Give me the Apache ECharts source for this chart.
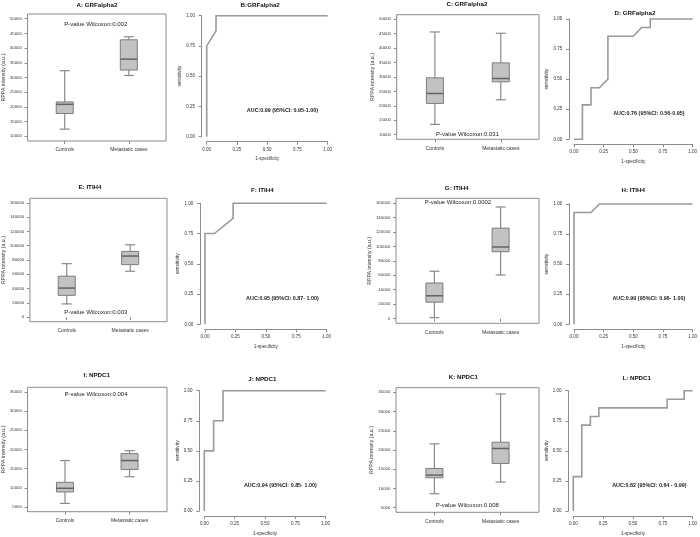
<!DOCTYPE html>
<html><head><meta charset="utf-8">
<script src="https://cdn.jsdelivr.net/npm/echarts@6/dist/echarts.min.js"></script>
<style>html,body{margin:0;padding:0;background:#fff}#c{width:700px;height:537px}</style>
</head><body><div id="c"></div>
<script>
// ---------- DATA ----------
const boxCategories = ['Controls', 'Metastatic cases'];
// box stats: [lower whisker, Q1, median, Q3, upper whisker]
const boxA_controls   = [12430, 17750, 20870, 21680, 32310];
const boxA_metastatic = [30690, 32540, 36240, 42830, 43870];
const boxC_controls   = [13570, 20840, 24290, 29710, 45620];
const boxC_metastatic = [22100, 28330, 29480, 34900, 45160];
const boxE_controls   = [18500, 30520, 40690, 57340, 74910];
const boxE_metastatic = [64280, 73530, 85550, 92020, 101270];
const boxG_controls   = [1400, 22790, 31630, 49300, 65580];
const boxG_metastatic = [60470, 92560, 99070, 125120, 154420];
const boxI_controls   = [5950, 8950, 9900, 11450, 17120];
const boxI_metastatic = [12910, 14800, 17120, 18930, 19700];
const boxK_controls   = [8630, 12780, 13470, 15200, 21600];
const boxK_metastatic = [11660, 16500, 20390, 22030, 34570];

const ticksGRF   = [10000, 15000, 20000, 25000, 30000, 35000, 40000, 45000, 50000];
const ticksITIH4 = [0, 20000, 40000, 60000, 80000, 100000, 120000, 140000, 160000];
const ticksNPDC1 = [5000, 10000, 15000, 20000, 25000, 30000, 35000];
const rocTicks   = [0, 0.25, 0.5, 0.75, 1];

// ROC curves: [1-specificity, sensitivity]
const rocB = [[0,0],[0,0.75],[0.077,0.875],[0.077,1],[1,1]];
const rocD = [[0,0],[0.071,0],[0.071,0.286],[0.143,0.286],[0.143,0.429],[0.214,0.429],[0.286,0.5],[0.286,0.857],[0.5,0.857],[0.571,0.929],[0.643,0.929],[0.643,1],[1,1]];
const rocF = [[0,0],[0,0.75],[0.077,0.75],[0.231,0.875],[0.231,1],[1,1]];
const rocH = [[0,0],[0,0.929],[0.143,0.929],[0.214,1],[1,1]];
const rocJ = [[0,0],[0,0.5],[0.077,0.5],[0.077,0.75],[0.154,0.75],[0.154,1],[1,1]];
const rocL = [[0,0],[0,0.286],[0.071,0.286],[0.071,0.714],[0.143,0.714],[0.143,0.786],[0.214,0.786],[0.214,0.857],[0.786,0.857],[0.786,0.929],[0.929,0.929],[0.929,1],[1,1]];

const titles = ['A: GRFalpha2','B:GRFalpha2','C: GRFalpha2','D: GRFalpha2','E: ITIH4','F: ITIH4','G: ITIH4','H: ITIH4','I: NPDC1','J: NPDC1','K: NPDC1','L: NPDC1'];
const pTexts = ['P-value Wilcoxon:0.002','P-value Wilcoxon:0.031','P-value Wilcoxon:0.003','P-value Wilcoxon:0.0002','P-value Wilcoxon:0.004','P-value Wilcoxon:0.008'];
const aucTexts = ['AUC:0.99 (95%CI: 0.95-1.00)','AUC:0.76 (95%CI: 0.56-0.95)','AUC:0.95 (95%CI: 0.87- 1.00)','AUC:0.99 (95%CI: 0.96- 1.00)','AUC:0.94 (95%CI: 0.85- 1.00)','AUC:0.82 (95%CI: 0.64 - 0.99)'];

// ---------- LAYOUT ----------
const FONT = "'Liberation Sans', Arial, sans-serif";
const boxPanels = [
  {grid:[24,14,142,127],   lim:[10000,50000],  ticks:ticksGRF,   c:boxA_controls, m:boxA_metastatic, p:0, pPos:[95.7,24]},
  {grid:[396.7,14.7,142.3,124.6], lim:[10000,50000], ticks:ticksGRF, c:boxC_controls, m:boxC_metastatic, p:1, pPos:[467.5,134]},
  {grid:[24,198.3,143,123.4], lim:[0,160000], ticks:ticksITIH4, c:boxE_controls, m:boxE_metastatic, p:2, pPos:[95.8,312.7]},
  {grid:[396,198.3,143,125],  lim:[0,160000], ticks:ticksITIH4, c:boxG_controls, m:boxG_metastatic, p:3, pPos:[458,202.7]},
  {grid:[24,387.3,143,124.4], lim:[5000,35000], ticks:ticksNPDC1, c:boxI_controls, m:boxI_metastatic, p:4, pPos:[96,394]},
  {grid:[396,387.7,143,124.6],lim:[5000,35000], ticks:ticksNPDC1, c:boxK_controls, m:boxK_metastatic, p:5, pPos:[467.3,505.7]}
];
const rocPanels = [
  {grid:[206.7,15.7,121,121], d:rocB, a:0, aPos:[282.5,111]},
  {grid:[574,19,120.3,120.3], d:rocD, a:1, aPos:[648.8,113.7]},
  {grid:[205,203.3,121.7,121], d:rocF, a:2, aPos:[282.5,298.3]},
  {grid:[574,204,121,120.3],  d:rocH, a:3, aPos:[648.8,298.3]},
  {grid:[204.3,390.7,121.4,121], d:rocJ, a:4, aPos:[280.3,486]},
  {grid:[573.3,390.7,121,120.3], d:rocL, a:5, aPos:[649.3,486]}
];
const titlePos = [[97,5],[260.2,5],[467,4],[635,13],[90,187.7],[262.3,190],[456.7,188.3],[633.3,190],[96.7,375.7],[262.3,379],[463.3,377.7],[636.7,378.3]];

const LINE = '#8c8c8c', TXT = '#333';
const grids = [], xAxes = [], yAxes = [], series = [], graphics = [];

function renderBox(params, api) {
  const x = api.value(0);
  const lo = api.coord([x, api.value(1)]);
  const q1 = api.coord([x, api.value(2)]);
  const md = api.coord([x, api.value(3)]);
  const q3 = api.coord([x, api.value(4)]);
  const hi = api.coord([x, api.value(5)]);
  const cx = lo[0], bw = 17, cw = 10;
  const ls = {stroke: '#8a8a8a', lineWidth: 1.2};
  return {type:'group', children:[
    {type:'line', shape:{x1:cx,y1:hi[1],x2:cx,y2:q3[1]}, style:ls},
    {type:'line', shape:{x1:cx,y1:q1[1],x2:cx,y2:lo[1]}, style:ls},
    {type:'line', shape:{x1:cx-cw/2,y1:hi[1],x2:cx+cw/2,y2:hi[1]}, style:ls},
    {type:'line', shape:{x1:cx-cw/2,y1:lo[1],x2:cx+cw/2,y2:lo[1]}, style:ls},
    {type:'rect', shape:{x:cx-bw/2,y:q3[1],width:bw,height:q1[1]-q3[1]}, style:{fill:'#c2c2c2', stroke:'#7c7c7c', lineWidth:1}},
    {type:'line', shape:{x1:cx-bw/2,y1:md[1],x2:cx+bw/2,y2:md[1]}, style:{stroke:'#636363', lineWidth:1.5}}
  ]};
}

function makeRocRenderer(points) {
  return function (params, api) {
    if (params.dataIndex !== 0) return null;
    const pts = points.map(p => api.coord(p));
    return {type:'polyline', shape:{points:pts}, style:{stroke:'#9a9a9a', lineWidth:1.6, fill:null}};
  };
}

boxPanels.forEach(bp => {
  const gi = grids.length;
  const [l,t,w,h] = bp.grid;
  grids.push({left:l, top:t, width:w, height:h, show:true, borderColor:LINE, borderWidth:1, backgroundColor:'transparent'});
  xAxes.push({gridIndex:gi, type:'value', min:0.42, max:2.58,
    axisLine:{show:false}, splitLine:{show:false},
    axisTick:{show:true, customValues:[1,2], length:3, lineStyle:{color:LINE}},
    axisLabel:{customValues:[1,2], formatter: v => boxCategories[Math.round(v)-1], fontSize:5, color:TXT, fontFamily:FONT, margin:6.5}});
  const r = bp.lim[1]-bp.lim[0];
  yAxes.push({gridIndex:gi, type:'value', min:bp.lim[0]-0.04*r, max:bp.lim[1]+0.04*r,
    name:'RPPA intensity (a.u.)', nameLocation:'middle', nameGap:19, nameRotate:90,
    nameTextStyle:{fontSize:5.2, color:TXT, fontFamily:FONT},
    axisLine:{show:false}, splitLine:{show:false},
    axisTick:{show:true, customValues:bp.ticks, length:3, lineStyle:{color:LINE}},
    axisLabel:{customValues:bp.ticks, formatter: v => String(v), fontSize:4.3, color:TXT, fontFamily:FONT, margin:5.7}});
  series.push({type:'custom', xAxisIndex:gi, yAxisIndex:gi, renderItem:renderBox,
    encode:{x:0, y:[1,2,3,4,5]},
    data:[[1, ...bp.c], [2, ...bp.m]]});
  graphics.push({type:'text', x:bp.pPos[0], y:bp.pPos[1], style:{text:pTexts[bp.p], fontSize:6, fill:'#222', fontFamily:FONT, align:'center', verticalAlign:'middle'}});
});

rocPanels.forEach(rp => {
  const gi = grids.length;
  const [l,t,w,h] = rp.grid;
  grids.push({left:l, top:t, width:w, height:h});
  xAxes.push({gridIndex:gi, type:'value', min:0, max:1, offset:5,
    name:'1-specificity', nameLocation:'middle', nameGap:15,
    nameTextStyle:{fontSize:4.6, color:TXT, fontFamily:FONT},
    axisLine:{show:true, onZero:false, lineStyle:{color:LINE, width:1}}, splitLine:{show:false},
    axisTick:{show:true, customValues:rocTicks, length:3, lineStyle:{color:LINE}},
    axisLabel:{customValues:rocTicks, formatter: v => v.toFixed(2), fontSize:4.5, color:TXT, fontFamily:FONT, margin:5.3}});
  yAxes.push({gridIndex:gi, type:'value', min:0, max:1, offset:5,
    name:'sensitivity', nameLocation:'middle', nameGap:18.5, nameRotate:90,
    nameTextStyle:{fontSize:4.8, color:TXT, fontFamily:FONT},
    axisLine:{show:true, onZero:false, lineStyle:{color:LINE, width:1}}, splitLine:{show:false},
    axisTick:{show:true, customValues:rocTicks, length:3, lineStyle:{color:LINE}},
    axisLabel:{customValues:rocTicks, formatter: v => v.toFixed(2), fontSize:4.5, color:TXT, fontFamily:FONT, margin:6.7}});
  series.push({type:'custom', xAxisIndex:gi, yAxisIndex:gi, renderItem:makeRocRenderer(rp.d),
    encode:{x:0, y:1}, clip:false, z:5, data:rp.d});
  graphics.push({type:'text', x:rp.aPos[0], y:rp.aPos[1], style:{text:aucTexts[rp.a], fontSize:5.4, fontWeight:'bold', fill:'#222', fontFamily:FONT, align:'center', verticalAlign:'middle'}});
});

titles.forEach((tx, i) => {
  graphics.push({type:'text', x:titlePos[i][0], y:titlePos[i][1], style:{text:tx, fontSize:6.2, fontWeight:'bold', fill:'#111', fontFamily:FONT, align:'center', verticalAlign:'middle'}});
});

const chart = echarts.init(document.getElementById('c'), null, {renderer:'canvas'});
chart.setOption({animation:false, backgroundColor:'#fff', grid:grids, xAxis:xAxes, yAxis:yAxes, series:series, graphic:graphics});
</script></body></html>
